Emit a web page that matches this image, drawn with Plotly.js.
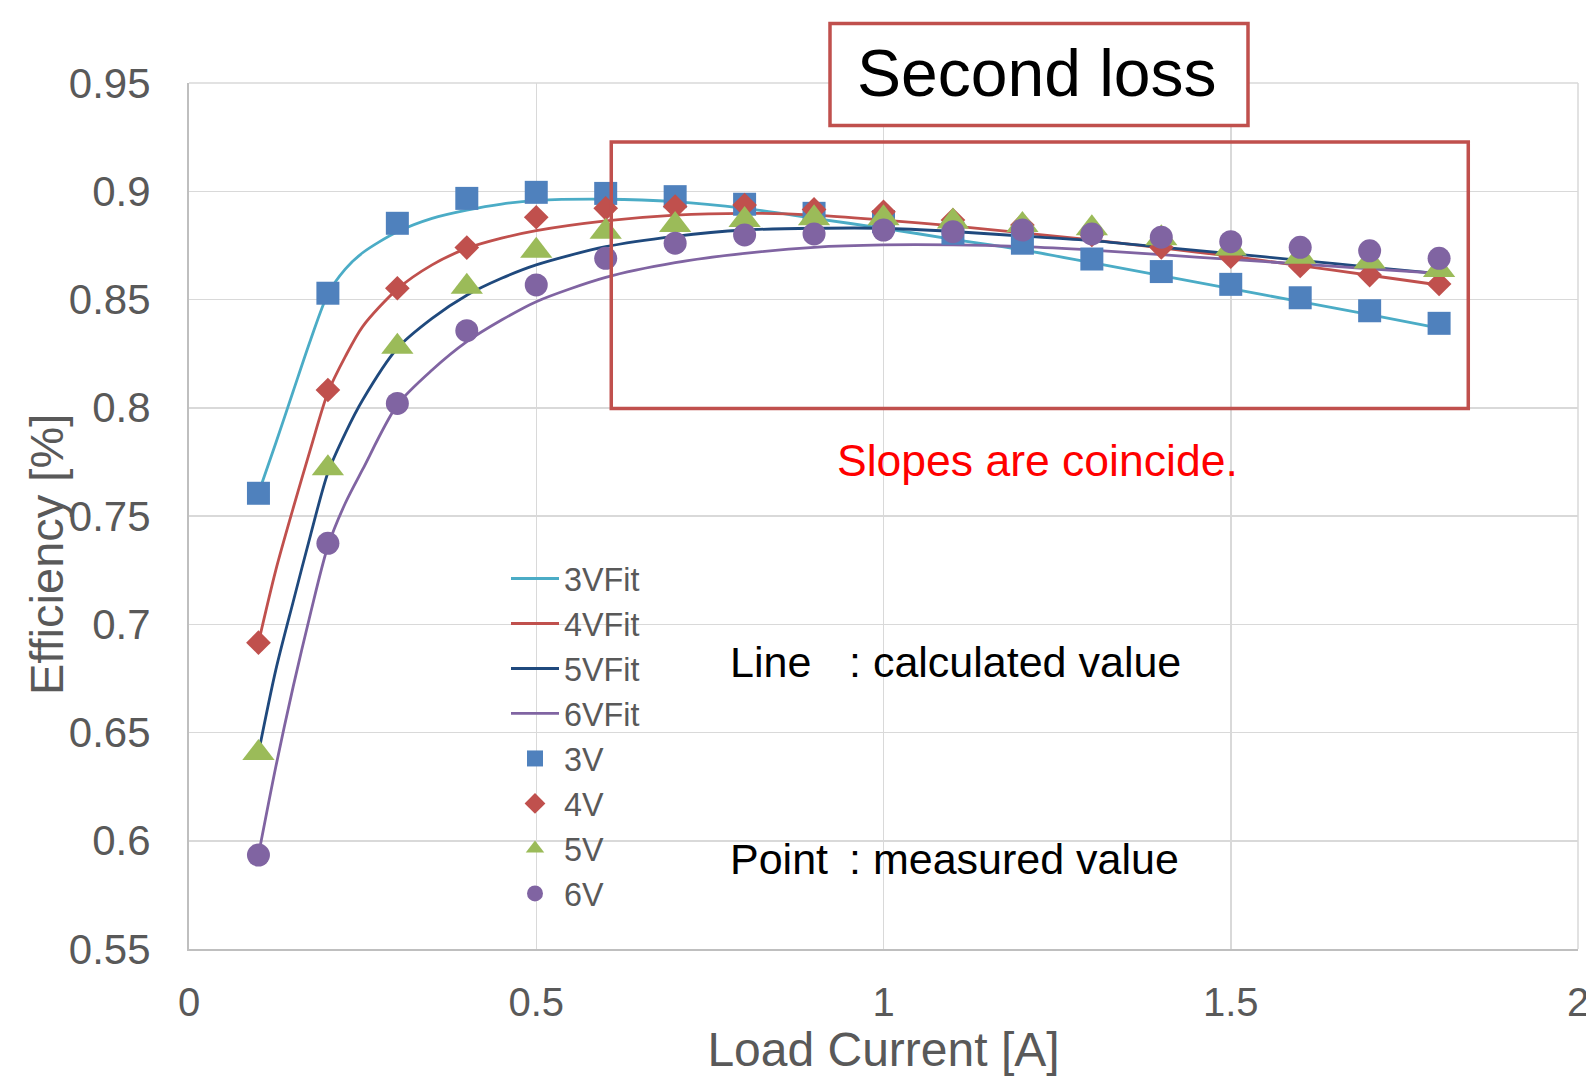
<!DOCTYPE html>
<html>
<head>
<meta charset="utf-8">
<script src="https://cdn.plot.ly/plotly-3.0.1.min.js"></script>
<style>
  html, body { margin: 0; padding: 0; background: #ffffff; }
  #chart { width: 1586px; height: 1076px; }
</style>
</head>
<body>
<div id="chart"></div>
<script>
// ---- Measured data (Load current [A] vs efficiency) ----
const loadCurrent = [0.1,0.2,0.3,0.4,0.5,0.6,0.7,0.8,0.9,1.0,1.1,1.2,1.3,1.4,1.5,1.6,1.7,1.8];
const eff3V = [0.7605,0.8529,0.8852,0.8967,0.8995,0.8990,0.8975,0.8940,0.8898,0.8860,0.8806,0.8760,0.8687,0.8629,0.8570,0.8508,0.8448,0.8390];
const eff4V = [0.6915,0.8082,0.8552,0.8740,0.8880,0.8921,0.8929,0.8936,0.8916,0.8905,0.8867,0.8844,0.8798,0.8741,0.8698,0.8655,0.8613,0.8572];
const eff5V = [0.6405,0.7720,0.8282,0.8559,0.8725,0.8813,0.8844,0.8867,0.8875,0.8875,0.8860,0.8844,0.8829,0.8783,0.8736,0.8698,0.8675,0.8636];
const eff6V = [0.5934,0.7374,0.8020,0.8356,0.8567,0.8690,0.8760,0.8798,0.8803,0.8821,0.8813,0.8821,0.8803,0.8788,0.8767,0.8741,0.8725,0.8690];

// ---- Calculated (fitted) curves ----
const fitCurrent = [0.1,0.125,0.15,0.175,0.2,0.225,0.25,0.3,0.35,0.4,0.45,0.5,0.6,0.7,0.8,0.9,1.0,1.1,1.2,1.3,1.4,1.5,1.6,1.7,1.8];
const fit3V = [0.7605,0.7837,0.8076,0.8313,0.8525,0.8640,0.8716,0.8813,0.8875,0.8913,0.8941,0.8957,0.8963,0.8952,0.8921,0.8875,0.8829,0.8778,0.8729,0.8670,0.8610,0.8550,0.8490,0.8430,0.8368];
const fit4V = [0.6915,0.7250,0.7536,0.7810,0.8070,0.8236,0.8375,0.8548,0.8660,0.8736,0.8783,0.8818,0.8863,0.8890,0.8898,0.8890,0.8867,0.8840,0.8808,0.8775,0.8738,0.8700,0.8656,0.8612,0.8567];
const fit5V = [0.6405,0.6789,0.7104,0.7412,0.7700,0.7882,0.8036,0.8275,0.8413,0.8520,0.8598,0.8660,0.8744,0.8792,0.8821,0.8829,0.8829,0.8814,0.8793,0.8772,0.8742,0.8712,0.8681,0.8650,0.8620];
const fit6V = [0.5934,0.6342,0.6712,0.7051,0.7360,0.7559,0.7715,0.8013,0.8174,0.8305,0.8405,0.8490,0.8602,0.8670,0.8713,0.8741,0.8752,0.8752,0.8744,0.8728,0.8707,0.8685,0.8664,0.8642,0.8621];

const fitNames = ['3VFit','4VFit','5VFit','6VFit'];
const pointNames = ['3V','4V','5V','6V'];
const yTickVals = [0.55,0.6,0.65,0.7,0.75,0.8,0.85,0.9,0.95];
const xTickVals = [0,0.5,1,1.5,2];

const FONT = '"Liberation Sans", Arial, Helvetica, sans-serif';
const GREY = '#595959';

const fitColors = ['#4bacc6','#c0504d','#1f497d','#8064a2'];
const ptColors = ['#4f81bd','#c0504d','#9bbb59','#8064a2'];
const ptSymbols = ['square','diamond','triangle-up','circle'];
const ptSizes = [23,19,28,23];

const fits = [fit3V, fit4V, fit5V, fit6V];
const pts = [eff3V, eff4V, eff5V, eff6V];

const traces = [];
fits.forEach((f, i) => traces.push({
  type: 'scatter', mode: 'lines', name: fitNames[i],
  x: fitCurrent, y: f,
  line: { color: fitColors[i], width: 2.8, shape: 'spline', smoothing: 0.8 }
}));
pts.forEach((p, i) => traces.push({
  type: 'scatter', mode: 'markers', name: pointNames[i],
  x: loadCurrent, y: p,
  marker: { symbol: ptSymbols[i], color: ptColors[i], size: ptSizes[i], line: { width: 0 } }
}));

const W = 1586, H = 1076, ML = 189, MR = 8, MT = 83, MB = 127;
const PW = W - ML - MR, PH = H - MT - MB;
const px = v => (v - ML) / PW;           // pixel -> paper x
const py = v => (H - MB - v) / PH;        // pixel -> paper y

const layout = {
  width: W, height: H,
  margin: { l: ML, r: MR, t: MT, b: MB, pad: 0 },
  paper_bgcolor: '#ffffff', plot_bgcolor: '#ffffff',
  font: { family: FONT, color: GREY },
  showlegend: true,
  legend: {
    x: px(506), y: py(551), xanchor: 'left', yanchor: 'top',
    bgcolor: 'rgba(0,0,0,0)', borderwidth: 0,
    font: { family: FONT, size: 32.3, color: GREY },
    itemwidth: 48, tracegroupgap: 0
  },
  xaxis: {
    range: [0, 2], tickvals: xTickVals, ticktext: xTickVals.map(String),
    showgrid: true, gridcolor: '#d9d9d9', gridwidth: 1.5,
    zeroline: false, showline: true, linecolor: '#bfbfbf', linewidth: 2,
    ticks: '', ticklabelstandoff: 17, ticklabeloverflow: 'allow',
    tickfont: { family: FONT, size: 40, color: GREY },
    title: { text: 'Load Current [A]', standoff: 17, font: { family: FONT, size: 48, color: GREY } }
  },
  yaxis: {
    range: [0.55, 0.95], tickvals: yTickVals, ticktext: yTickVals.map(String),
    showgrid: true, gridcolor: '#d9d9d9', gridwidth: 1.5,
    zeroline: false, showline: true, linecolor: '#bfbfbf', linewidth: 2,
    ticks: '', ticklabelstandoff: 28, ticklabeloverflow: 'allow',
    tickfont: { family: FONT, size: 42, color: GREY }
  },
  shapes: [
    // plot-area border in gridline colour (top and right)
    { type: 'line', xref: 'paper', yref: 'paper', layer: 'below',
      x0: 0, x1: 1, y0: 1, y1: 1, line: { color: '#d9d9d9', width: 1.5 } },
    { type: 'line', xref: 'paper', yref: 'paper', layer: 'below',
      x0: 1, x1: 1, y0: 0, y1: 1, line: { color: '#d9d9d9', width: 1.5 } },
    // white backgrounds behind text (hide gridlines)
    { type: 'rect', xref: 'paper', yref: 'paper', layer: 'between',
      x0: px(826), x1: px(1246), y0: py(497), y1: py(425),
      fillcolor: '#ffffff', line: { width: 0 } },
    { type: 'rect', xref: 'paper', yref: 'paper', layer: 'between',
      x0: px(708), x1: px(1204), y0: py(900), y1: py(820),
      fillcolor: '#ffffff', line: { width: 0 } },
    // "Second loss" label box
    { type: 'rect', xref: 'paper', yref: 'paper', layer: 'above',
      x0: px(830), x1: px(1248), y0: py(125.5), y1: py(23.5),
      fillcolor: '#ffffff', line: { color: '#c0504d', width: 3.5 } },
    // highlighted region
    { type: 'rect', xref: 'x', yref: 'y', layer: 'above',
      x0: 0.608, x1: 1.842, y0: 0.7996, y1: 0.9227,
      fillcolor: 'rgba(0,0,0,0)', line: { color: '#c0504d', width: 3.5 } }
  ],
  annotations: [
    { text: 'Efficiency [%]', textangle: -90, xref: 'paper', yref: 'paper',
      x: px(46), y: py(555), xanchor: 'center', yanchor: 'middle', showarrow: false,
      font: { family: FONT, size: 47, color: GREY } },
    { text: 'Second loss', xref: 'paper', yref: 'paper',
      x: px(1037), y: py(73), xanchor: 'center', yanchor: 'middle', showarrow: false,
      font: { family: FONT, size: 66, color: '#000000' } },
    { text: 'Slopes are coincide.', xref: 'paper', yref: 'paper',
      x: px(1037), y: py(460), xanchor: 'center', yanchor: 'middle', showarrow: false,
      font: { family: FONT, size: 44.5, color: '#ff0000' } },
    { text: 'Line', xref: 'paper', yref: 'paper',
      x: px(728), y: py(662), xanchor: 'left', yanchor: 'middle', showarrow: false,
      font: { family: FONT, size: 43, color: '#000000' } },
    { text: ': calculated value', xref: 'paper', yref: 'paper',
      x: px(847), y: py(662), xanchor: 'left', yanchor: 'middle', showarrow: false,
      font: { family: FONT, size: 43, color: '#000000' } },
    { text: 'Point', xref: 'paper', yref: 'paper',
      x: px(728), y: py(859), xanchor: 'left', yanchor: 'middle', showarrow: false,
      font: { family: FONT, size: 43, color: '#000000' } },
    { text: ': measured value', xref: 'paper', yref: 'paper',
      x: px(847), y: py(859), xanchor: 'left', yanchor: 'middle', showarrow: false,
      font: { family: FONT, size: 43, color: '#000000' } }
  ]
};

Plotly.newPlot('chart', traces, layout, { displayModeBar: false, staticPlot: true });
</script>
</body>
</html>
